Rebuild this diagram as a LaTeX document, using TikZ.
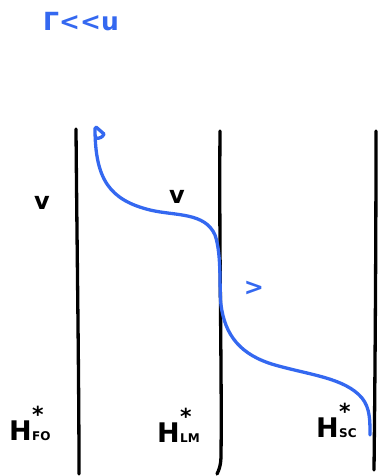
\documentclass[tikz,border=0pt]{standalone}
\usepackage{fontspec}
\setmainfont{DejaVu Sans}
\definecolor{pen}{RGB}{52,104,240}
\begin{document}
\begin{tikzpicture}[x=1pt,y=-1pt,
  wall/.style={line width=3.3pt,line cap=round,black},
  bluepen/.style={line width=3.3pt,line cap=round,line join=round,pen},
  hbig/.style={inner sep=0pt,anchor=base west,font=\fontsize{27}{29}\selectfont\bfseries},
  hstar/.style={inner sep=0pt,anchor=base west,font=\fontsize{22}{24}\selectfont\bfseries},
  hsub/.style={inner sep=0pt,anchor=base west,font=\fontsize{12}{14}\selectfont\bfseries},
  small/.style={inner sep=0pt,font=\fontsize{24}{26}\selectfont\bfseries}]
\useasboundingbox (0,0) rectangle (378,476);
% walls
\draw[wall] (76,129) .. controls (77,250) and (79,380) .. (79,474);
\draw[wall] (220,131) .. controls (219,250) and (222,380) .. (221,455) .. controls (221,465) and (219,470) .. (217,474);
\draw[wall] (376,131) .. controls (376,250) and (375,380) .. (374,470);
% blue curve
\draw[bluepen] (96,127) -- (104,134) .. controls (103,137) and (99,139) .. (96,138);
\draw[bluepen] (95,128) .. controls (95,180) and (110,200) .. (150,210)
  .. controls (175,216) and (205,212) .. (215,235)
  .. controls (222,255) and (219,290) .. (221,305)
  .. controls (225,335) and (240,355) .. (275,365)
  .. controls (310,375) and (345,378) .. (362,398)
  .. controls (370,408) and (370,420) .. (370,435);
% labels
\node[pen,inner sep=0pt,anchor=west,font=\fontsize{25}{27}\selectfont\bfseries] (title) at (43,22) {Γ<{}<u};
\node[small] (v1) at (42,203) {v};
\node[small] (v2) at (177,197) {v};
\node[small,pen] (gt) at (254,288) {>};
% H*_FO
\node[hbig] (hfo) at (9,440) {H};
\node[hstar] (hfos) at (32,422) {*};
\node[hsub] (hfob) at (32,440) {FO};
% H*_LM
\node[hbig] (hlm) at (157,442) {H};
\node[hstar] (hlms) at (180,424) {*};
\node[hsub] (hlmb) at (180,442) {LM};
% H*_SC
\node[hbig] (hsc) at (316,437) {H};
\node[hstar] (hscs) at (339,419) {*};
\node[hsub] (hscb) at (339,437) {SC};
\end{tikzpicture}
\end{document}
